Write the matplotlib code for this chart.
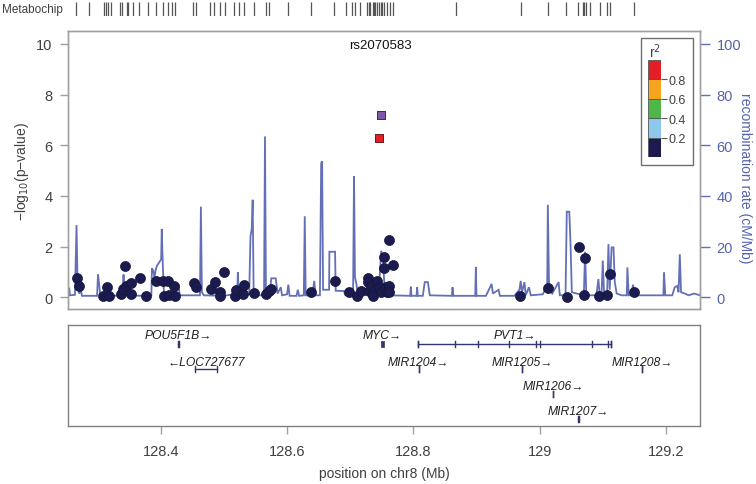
import numpy as np
import matplotlib
matplotlib.use("Agg")
import matplotlib.pyplot as plt
from matplotlib.patches import Rectangle

plt.rcParams['font.family'] = ['Liberation Sans', 'DejaVu Sans']

# ---------------- data ----------------
index_snp = "rs2070583"
index_pos = 128.7485
index_logp = 7.2
hit_pos = 128.7455
hit_logp = 6.29

snp_pos = [128.268, 128.271, 128.309, 128.314, 128.318, 128.337, 128.340, 128.343, 128.345,
           128.353, 128.353, 128.367, 128.376, 128.393, 128.403, 128.405, 128.412, 128.413,
           128.421, 128.423, 128.453, 128.456, 128.479, 128.486, 128.493, 128.494, 128.500,
           128.517, 128.519, 128.530, 128.532, 128.548, 128.567, 128.571, 128.574, 128.638,
           128.676, 128.698, 128.711, 128.717, 128.728, 128.728, 128.730, 128.733, 128.736,
           128.736, 128.743, 128.746, 128.749, 128.753, 128.754, 128.756, 128.759, 128.762,
           128.762, 128.762, 128.767, 128.969, 129.014, 129.044, 129.062, 129.071, 129.072,
           129.094, 129.107, 129.111, 129.150]
snp_logp = [0.75, 0.46, 0.06, 0.39, 0.06, 0.13, 0.33, 1.22, 0.46,
            0.56, 0.13, 0.75, 0.06, 0.66, 0.63, 0.06, 0.63, 0.09,
            0.46, 0.04, 0.56, 0.39, 0.33, 0.59, 0.20, 0.06, 0.99,
            0.06, 0.30, 0.13, 0.49, 0.17, 0.13, 0.26, 0.33, 0.20,
            0.66, 0.20, 0.06, 0.26, 0.75, 0.59, 0.26, 0.46, 0.20,
            0.06, 0.66, 0.39, 0.20, 1.58, 1.14, 0.39, 0.20, 2.26,
            0.46, 0.20, 1.28, 0.06, 0.37, 0.03, 2.00, 0.10, 1.57,
            0.06, 0.10, 0.92, 0.20]

recomb_pos = [128.250, 128.255, 128.256, 128.264, 128.2665, 128.268, 128.270, 128.271, 128.273, 128.275,
              128.299, 128.3005, 128.302, 128.304, 128.338, 128.340, 128.341, 128.342, 128.344,
              128.372, 128.374, 128.376, 128.385, 128.386, 128.388, 128.390, 128.392, 128.394,
              128.4005, 128.4015, 128.403, 128.405, 128.420, 128.422, 128.428, 128.430,
              128.462, 128.4635, 128.465, 128.468, 128.500, 128.510, 128.521, 128.522, 128.5235,
              128.540, 128.542, 128.544, 128.5455, 128.547, 128.549, 128.5635, 128.565, 128.5665,
              128.572, 128.575, 128.582, 128.585, 128.590, 128.592, 128.600, 128.602, 128.604,
              128.615, 128.617, 128.619, 128.6265, 128.628, 128.6295, 128.640, 128.643, 128.645,
              128.652, 128.654, 128.6555, 128.657, 128.6665, 128.667, 128.676, 128.677, 128.690,
              128.692, 128.7045, 128.706, 128.7075, 128.710, 128.712, 128.722, 128.730, 128.745,
              128.749, 128.752, 128.754, 128.760, 128.763, 128.795, 128.796, 128.797, 128.805,
              128.806, 128.807, 128.815, 128.818, 128.823, 128.826, 128.861, 128.862, 128.8635,
              128.898, 128.899, 128.900, 128.915, 128.924, 128.926, 128.935, 128.937, 128.960,
              128.968, 128.970, 128.972, 128.976, 128.978, 128.983, 128.986, 129.005, 129.012,
              129.013, 129.015, 129.020, 129.030, 129.032, 129.041, 129.043, 129.047, 129.049,
              129.051, 129.070, 129.072, 129.074, 129.090, 129.093, 129.095, 129.098, 129.100,
              129.102, 129.107, 129.109, 129.111, 129.114, 129.117, 129.119, 129.122, 129.130,
              129.138, 129.139, 129.141, 129.145, 129.148, 129.150, 129.196, 129.197, 129.199,
              129.210, 129.214, 129.218, 129.220, 129.222, 129.224, 129.230, 129.236, 129.245,
              129.254]
recomb_rate = [3.5, 3.5, 0.8, 1.0, 28.5, 7, 5, 1.5, 4, 0.6,
               0.6, 9.0, 6, 0.8, 0.6, 4, 9, 3, 0.8,
               0.6, 2, 0.6, 0.8, 11.5, 10.5, 8, 11, 12.5,
               15, 27, 14, 1.5, 0.8, 5, 5, 0.8,
               0.8, 35.8, 2, 0.8, 0.6, 1.0, 0.8, 9.9, 1.5,
               1.2, 24, 27, 38.5, 3, 0.8, 0.8, 63.5, 1.5,
               0.8, 7.5, 7.5, 1.5, 4, 0.8, 1.2, 5, 0.6,
               0.6, 3, 0.6, 0.8, 32, 0.8, 0.8, 6.5, 0.8,
               0.8, 53, 53.7, 3, 3, 18, 18, 2.6, 2.5,
               1.0, 0.8, 47.8, 8, 5, 1.5, 0.8, 1.2, 1.2,
               18.4, 16, 5, 4, 0.8, 0.6, 4.2, 0.6, 0.6,
               4, 0.6, 0.6, 6, 6, 0.8, 0.6, 4, 0.6,
               0.6, 12, 0.6, 0.6, 5.3, 1.5, 3, 0.6, 0.6,
               3, 6.5, 2, 6, 0.8, 4, 0.8, 1.2, 5,
               36.5, 3, 1.5, 6, 0.8, 0.8, 33.8, 33.8, 20.4,
               2, 0.8, 18, 0.8, 0.8, 7.2, 1.5, 0.8, 14.5,
               2, 2, 21, 3, 19.7, 19.7, 6, 1.5, 0.8,
               0.8, 11.8, 0.8, 0.8, 5, 0.8, 0.8, 9.9, 0.8,
               0.8, 4, 4.5, 2, 17, 2, 1.5, 0.8, 1.5,
               0.8]

chip_pos = [128.266, 128.287, 128.310, 128.313, 128.316, 128.321, 128.336, 128.339, 128.346,
            128.348, 128.356, 128.366, 128.379, 128.392, 128.403, 128.412, 128.417, 128.422,
            128.451, 128.455, 128.478, 128.485, 128.493, 128.501, 128.516, 128.524, 128.531,
            128.548, 128.567, 128.572, 128.601, 128.638, 128.675, 128.693, 128.703, 128.708,
            128.716, 128.727, 128.729, 128.732, 128.736, 128.738, 128.740, 128.742, 128.745,
            128.748, 128.750, 128.754, 128.758, 128.763, 128.768, 128.868, 128.970, 129.013,
            129.042, 129.060, 129.068, 129.070, 129.073, 129.080, 129.095, 129.106, 129.111,
            129.150]

gene_names = ["POU5F1B", "LOC727677", "MYC", "PVT1", "MIR1204", "MIR1205", "MIR1208",
              "MIR1206", "MIR1207"]
gene_start = [128.4270, 128.4540, 128.7483, 128.8068, 128.8083, 128.9725, 129.1627,
              129.0218, 129.0615]
gene_end = [128.4295, 128.4895, 128.7537, 129.1135, 128.8084, 128.9726, 129.1628,
            129.0219, 129.0616]
gene_strand = ["+", "-", "+", "+", "+", "+", "+", "+", "+"]
gene_row = [0, 1, 0, 0, 1, 1, 1, 2, 3]
pvt1_exons = [128.8068, 128.866, 128.902, 128.952, 128.995, 129.000, 129.083, 129.109, 129.1135]
loc_exons = [128.4540, 128.4895]

ld_bins = [0.0, 0.2, 0.4, 0.6, 0.8, 1.0]
ld_colors = ["#1C1B4F", "#8CC8EC", "#4DB74A", "#F6A31D", "#E41E26"]

xticks = [128.4, 128.6, 128.8, 129.0, 129.2]
xtick_labels = ["128.4", "128.6", "128.8", "129", "129.2"]
yticks = [0, 2, 4, 6, 8, 10]
rticks = [0, 20, 40, 60, 80, 100]

# ---------------- styles ----------------
W, H = 756, 485
XL = (128.253, 129.254)
BOX = "#A0A0A0"
TXT = "#404040"
BLUE = "#6370B8"
BLUE_TXT = "#5563AE"
GENE = "#35356E"

def fx(px):
    return px / W

def fy(py):
    return 1 - py / H

fig = plt.figure(figsize=(W / 100, H / 100), dpi=100)

# main axes
ax = fig.add_axes([fx(68), fy(310), fx(700) - fx(68), fy(32) - fy(310)])
ax2 = ax.twinx()
ax.set_zorder(ax2.get_zorder() + 1)
ax.patch.set_visible(False)

ax2.plot(recomb_pos, recomb_rate, color=BLUE, lw=1.3, solid_joinstyle='miter')
ax2.set_ylim(-4.6, 105.1)
ax.set_ylim(-0.46, 10.51)
ax.set_xlim(*XL)
ax2.set_xlim(*XL)

ax.scatter(snp_pos, snp_logp, s=52, color=ld_colors[0], edgecolor="#14143A",
           linewidth=0.5, zorder=3)
ax.scatter([hit_pos], [hit_logp], s=40, marker='s', color=ld_colors[4],
           edgecolor="#6A1A1A", linewidth=0.7, zorder=4)
ax.scatter([index_pos], [index_logp], s=40, marker='s', color="#7E57A6",
           edgecolor="#3A2A5A", linewidth=0.7, zorder=4)
ax.text(index_pos, 9.95, index_snp, ha='center', va='center', fontsize=9.5, color="#111111")

for a in (ax, ax2):
    for sp in a.spines.values():
        sp.set_color(BOX)
        sp.set_linewidth(1.0)
ax.set_xticks([])
ax.set_yticks(yticks)
ax.set_yticklabels([str(v) for v in yticks])
ax.tick_params(axis='y', direction='out', length=6, width=1, colors=BOX,
               labelcolor=TXT, labelsize=10.5, pad=5)
ax2.set_yticks(rticks)
ax2.set_yticklabels([str(v) for v in rticks])
ax2.tick_params(axis='y', direction='out', length=7, width=1, colors=BLUE,
                labelcolor=BLUE_TXT, labelsize=10.5, pad=5)

fig.text(fx(22), fy(172), "\u2212log$_{10}$(p\u2212value)", rotation=90, ha='center',
         va='center', fontsize=10, color=TXT)
fig.text(fx(745), fy(178), "recombination rate (cM/Mb)", rotation=270, ha='center',
         va='center', fontsize=10, color=BLUE_TXT)

# legend
fig.patches.append(Rectangle((fx(641), fy(166)), fx(693) - fx(641), fy(39) - fy(166),
                             transform=fig.transFigure, facecolor='white',
                             edgecolor='#707070', linewidth=1.0, zorder=5))
lax = fig.add_axes([fx(648), fy(158), fx(661) - fx(648), fy(61) - fy(158)], zorder=6)
for i, c in enumerate(ld_colors):
    lax.bar(0, ld_bins[i + 1] - ld_bins[i], bottom=ld_bins[i], width=1, color=c,
            edgecolor='#555555', linewidth=0.6)
lax.set_xlim(-0.5, 0.5)
lax.set_ylim(0, 1)
lax.set_xticks([])
lax.yaxis.tick_right()
lax.set_yticks(ld_bins[1:-1])
lax.set_yticklabels(["0.2", "0.4", "0.6", "0.8"])
lax.tick_params(axis='y', direction='out', length=4, width=0.8, colors='#555555',
                labelcolor=TXT, labelsize=9, pad=1.5)
for sp in lax.spines.values():
    sp.set_visible(False)
lax.set_title("r$^2$", fontsize=10, color=TXT, pad=2)

# metabochip track
mx = fig.add_axes([fx(68), fy(17), fx(700) - fx(68), fy(3) - fy(17)])
mx.vlines(chip_pos, 0, 1, color='#555555', linewidth=0.9)
mx.set_xlim(*XL)
mx.set_ylim(0, 1)
mx.axis('off')
fig.text(fx(2), fy(10), "Metabochip", ha='left', va='center', fontsize=8.5, color=TXT)

# gene panel
gx = fig.add_axes([fx(68), fy(427), fx(700) - fx(68), fy(326) - fy(427)])
gx.set_xlim(*XL)
gx.set_ylim(101, 0)
gx.set_yticks([])
gx.set_xticks(xticks)
gx.set_xticklabels(xtick_labels)
gx.tick_params(axis='x', direction='out', length=6, width=1, colors=BOX,
               labelcolor=TXT, labelsize=10.5, pad=7)
for sp in gx.spines.values():
    sp.set_color('#808080')
    sp.set_linewidth(1.0)
gx.set_xlabel("position on chr8 (Mb)", fontsize=10, color=TXT, labelpad=6)

row_line = [19, 44, 69, 94]
row_text = [10, 36.5, 61, 86.5]
for name, s, e, st, r in zip(gene_names, gene_start, gene_end, gene_strand, gene_row):
    yl = row_line[r]
    if name == "MYC":
        gx.add_patch(Rectangle((s, yl - 3), e - s, 6, facecolor=GENE, edgecolor=GENE, lw=0.5))
    else:
        gx.plot([s, e], [yl, yl], color=GENE, lw=1.0)
        gx.plot([s, s], [yl - 3, yl + 3], color=GENE, lw=1.0)
        gx.plot([e, e], [yl - 3, yl + 3], color=GENE, lw=1.0)
    label = name + "\u2192" if st == "+" else "\u2190" + name
    gx.text((s + e) / 2, row_text[r], label, ha='center', va='center', fontsize=8.7,
            style='italic', color='#202020')
for p in pvt1_exons:
    gx.plot([p, p], [row_line[0] - 3, row_line[0] + 3], color=GENE, lw=1.0)
gx.plot([loc_exons[1] - 0.001, loc_exons[1]], [row_line[1], row_line[1]], color=GENE, lw=4)

fig.savefig("out.png", dpi=100)
